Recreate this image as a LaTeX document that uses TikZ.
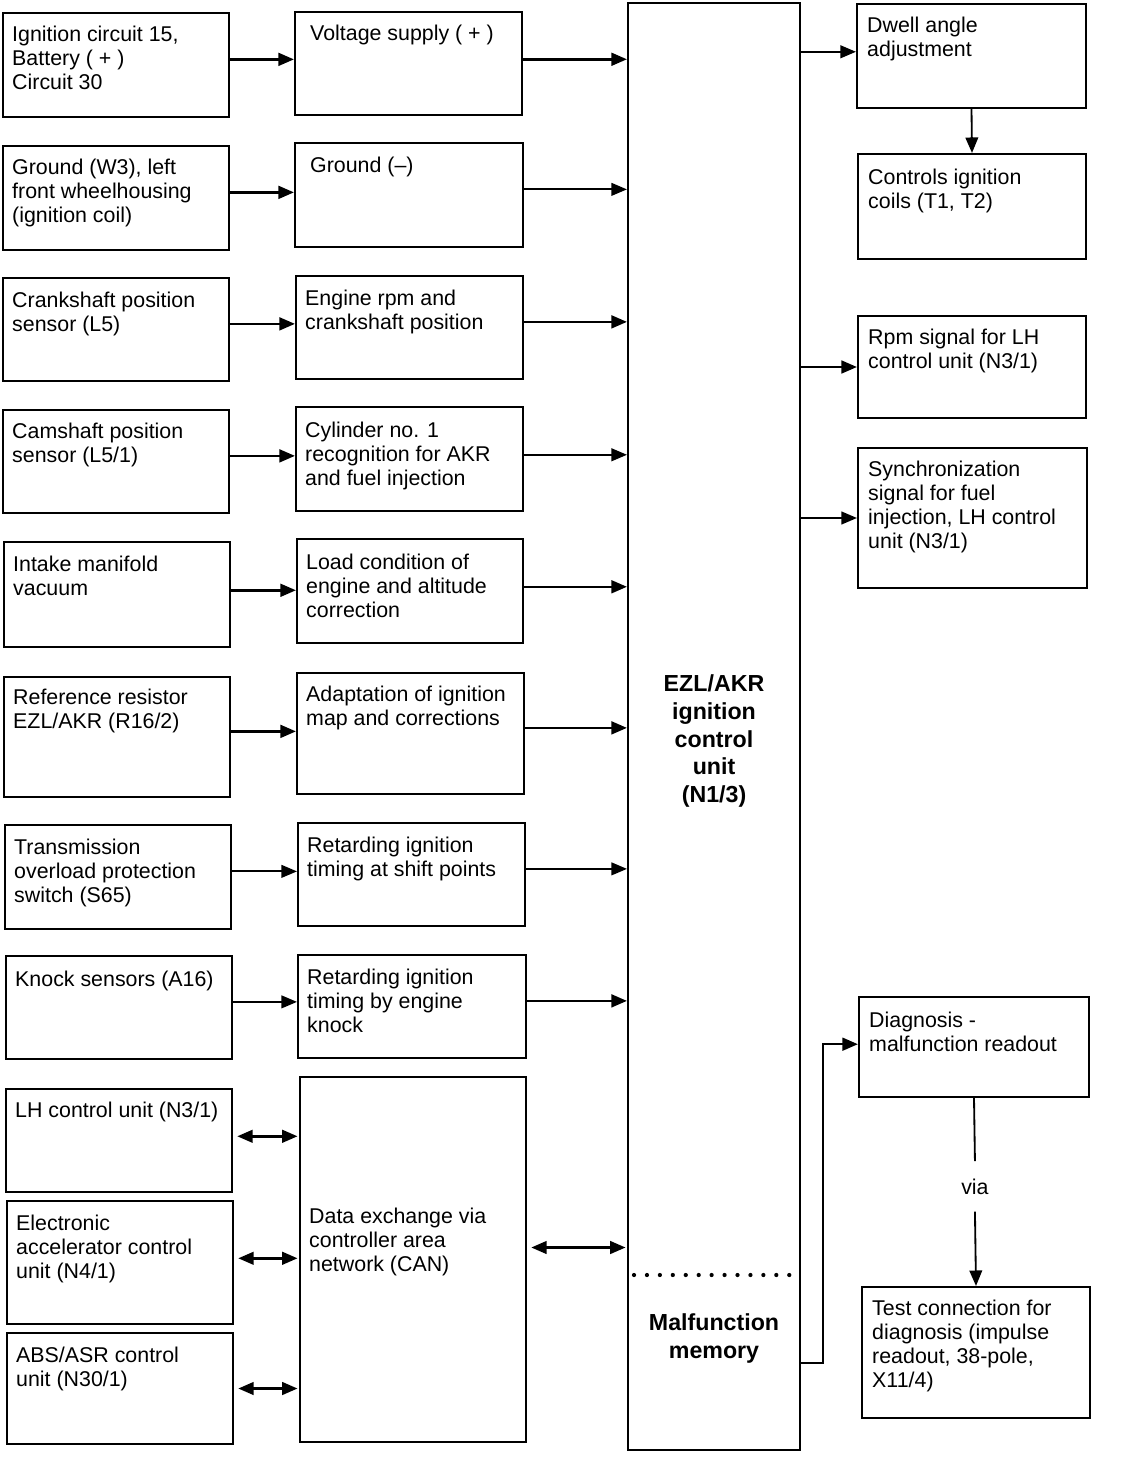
\documentclass[tikz,border=0pt]{standalone}
\usepackage{fontspec}
\setmainfont{Liberation Sans}
\usetikzlibrary{arrows.meta,fit,calc}

\begin{document}
\begin{tikzpicture}[x=0.025cm,y=-0.025cm,
  blk/.style={draw,line width=1.5pt,inner sep=0pt},
  txt/.style={anchor=north west,align=left,inner sep=0pt,font=\fontsize{15.2}{17.1}\selectfont},
  bold/.style={align=center,inner sep=0pt,font=\bfseries\fontsize{16.5}{19.9}\selectfont},
  arr/.style={-{Triangle[length=11pt,width=9pt]},line width=1.8pt},
  arrthin/.style={arr,line width=1.3pt},
  dbl/.style={{Triangle[length=11pt,width=9pt]}-{Triangle[length=11pt,width=9pt]},line width=1.8pt,shorten <=3pt,shorten >=1pt}]
\path[use as bounding box] (0,0) rectangle (1120,1458);
\fill[white] (0,0) rectangle (1120,1458);

% inputs
\node[blk,fit={(3,13) (229,117)}] (ign) {};
\node[txt] (igntxt) at ([shift={(10,14)}]ign.north west) {Ignition circuit 15,\\Battery ( + )\\Circuit 30};
\node[blk,fit={(3,146) (229,250)}] (gnd) {};
\node[txt] (gndtxt) at ([shift={(10,14)}]gnd.north west) {Ground (W3), left\\front wheelhousing\\(ignition coil)};
\node[blk,fit={(3,278) (229,381)}] (crank) {};
\node[txt] (cranktxt) at ([shift={(10,15)}]crank.north west) {Crankshaft position\\sensor (L5)};
\node[blk,fit={(3,410) (229,513)}] (cam) {};
\node[txt] (camtxt) at ([shift={(10,14)}]cam.north west) {Camshaft position\\sensor (L5/1)};
\node[blk,fit={(4,542) (230,647)}] (vac) {};
\node[txt] (vactxt) at ([shift={(10,15)}]vac.north west) {Intake manifold\\vacuum};
\node[blk,fit={(4,677) (230,797)}] (res) {};
\node[txt] (restxt) at ([shift={(10,13)}]res.north west) {Reference resistor\\EZL/AKR (R16/2)};
\node[blk,fit={(5,825) (231,929)}] (trans) {};
\node[txt] (transtxt) at ([shift={(10,15)}]trans.north west) {Transmission\\overload protection\\switch (S65)};
\node[blk,fit={(6,956) (232,1059)}] (knock) {};
\node[txt] (knocktxt) at ([shift={(10,16)}]knock.north west) {Knock sensors (A16)};
\node[blk,fit={(6,1089) (232,1192)}] (lh) {};
\node[txt] (lhtxt) at ([shift={(10,14)}]lh.north west) {LH control unit (N3/1)};
\node[blk,fit={(7,1201) (233,1324)}] (eac) {};
\node[txt] (eactxt) at ([shift={(10,15)}]eac.north west) {Electronic\\accelerator control\\unit (N4/1)};
\node[blk,fit={(7,1333) (233,1444)}] (abs) {};
\node[txt] (abstxt) at ([shift={(10,15)}]abs.north west) {ABS/ASR control\\unit (N30/1)};

% functions
\node[blk,fit={(295,12) (522,115)}] (vsup) {};
\node[txt] (vsuptxt) at ([shift={(16,14)}]vsup.north west) {Voltage supply ( + )};
\node[blk,fit={(295,143) (523,247)}] (gndm) {};
\node[txt] (gndmtxt) at ([shift={(16,15)}]gndm.north west) {Ground (\textendash)};
\node[blk,fit={(296,276) (523,379)}] (rpm) {};
\node[txt] (rpmtxt) at ([shift={(10,15)}]rpm.north west) {Engine rpm and\\crankshaft position};
\node[blk,fit={(296,407) (523,511)}] (cyl) {};
\node[txt] (cyltxt) at ([shift={(10,16)}]cyl.north west) {Cylinder no. 1\\recognition for AKR\\and fuel injection};
\node[blk,fit={(297,539) (523,643)}] (load) {};
\node[txt] (loadtxt) at ([shift={(10,16)}]load.north west) {Load condition of\\engine and altitude\\correction};
\node[blk,fit={(297,673) (524,794)}] (adapt) {};
\node[txt] (adapttxt) at ([shift={(10,14)}]adapt.north west) {Adaptation of ignition\\map and corrections};
\node[blk,fit={(298,823) (525,926)}] (shift) {};
\node[txt] (shifttxt) at ([shift={(10,15)}]shift.north west) {Retarding ignition\\timing at shift points};
\node[blk,fit={(298,955) (526,1058)}] (retk) {};
\node[txt] (retktxt) at ([shift={(10,15)}]retk.north west) {Retarding ignition\\timing by engine\\knock};
\node[blk,fit={(300,1077) (526,1442)}] (can) {};
\node[txt] (cantxt) at ([shift={(10,132)}]can.north west) {Data exchange via\\controller area\\network (CAN)};

% control unit
\node[blk,fit={(628,3) (800,1450)}] (ecu) {};
\node[bold] (ecutxt) at (714,741) {EZL/AKR\\ignition\\control\\unit\\(N1/3)};
\draw[line width=3pt,dash pattern=on 0pt off 9.2pt,line cap=round] (634,1275) -- (798,1275);
\node[bold] (memtxt) at (714,1338) {Malfunction\\memory};

% outputs
\node[blk,fit={(857,4) (1086,108)}] (dwell) {};
\node[txt] (dwelltxt) at ([shift={(11,14)}]dwell.north west) {Dwell angle\\adjustment};
\node[blk,fit={(858,154) (1086,259)}] (coils) {};
\node[txt] (coilstxt) at ([shift={(11,16)}]coils.north west) {Controls ignition\\coils (T1, T2)};
\node[blk,fit={(858,316) (1086,418)}] (rpmout) {};
\node[txt] (rpmouttxt) at ([shift={(11,14)}]rpmout.north west) {Rpm signal for LH\\control unit (N3/1)};
\node[blk,fit={(858,448) (1087,588)}] (sync) {};
\node[txt] (synctxt) at ([shift={(11,14)}]sync.north west) {Synchronization\\signal for fuel\\injection, LH control\\unit (N3/1)};
\node[blk,fit={(859,997) (1089,1097)}] (diag) {};
\node[txt] (diagtxt) at ([shift={(11,16)}]diag.north west) {Diagnosis -\\malfunction readout};
\node[blk,fit={(862,1287) (1090,1418)}] (test) {};
\node[txt] (testtxt) at ([shift={(11,14)}]test.north west) {Test connection for\\diagnosis (impulse\\readout, 38-pole,\\X11/4)};
\node[inner xsep=2pt,inner ysep=0.43cm,font=\fontsize{15.2}{17.1}\selectfont] (via) at ($(diag.south)!0.47!(test.north)$) {via};

% connectors
\draw[arr] ([yshift=4pt]ign.east) -- ([yshift=4pt]ign.east -| vsup.west);
\draw[arr] ([yshift=4pt]gnd.east) -- ([yshift=4pt]gnd.east -| gndm.west);
\draw[arr] ([yshift=4pt]crank.east) -- ([yshift=4pt]crank.east -| rpm.west);
\draw[arr] ([yshift=4pt]cam.east) -- ([yshift=4pt]cam.east -| cyl.west);
\draw[arr] ([yshift=3pt]vac.east) -- ([yshift=3pt]vac.east -| load.west);
\draw[arr] ([yshift=4pt]res.east) -- ([yshift=4pt]res.east -| adapt.west);
\draw[arrthin] ([yshift=4pt]trans.east) -- ([yshift=4pt]trans.east -| shift.west);
\draw[arrthin] ([yshift=4pt]knock.east) -- ([yshift=4pt]knock.east -| retk.west);
\draw[dbl] ([yshift=3pt]lh.east) -- ([yshift=3pt]lh.east -| can.west);
\draw[dbl] ([yshift=3pt]eac.east) -- ([yshift=3pt]eac.east -| can.west);
\draw[dbl] (abs.east) -- (abs.east -| can.west);

\draw[arr] ([yshift=3pt]vsup.east) -- ([yshift=3pt]vsup.east -| ecu.west);
\draw[arrthin] ([yshift=4pt]gndm.east) -- ([yshift=4pt]gndm.east -| ecu.west);
\draw[arr] ([yshift=4pt]rpm.east) -- ([yshift=4pt]rpm.east -| ecu.west);
\draw[arrthin] ([yshift=3pt]cyl.east) -- ([yshift=3pt]cyl.east -| ecu.west);
\draw[arr] ([yshift=3pt]load.east) -- ([yshift=3pt]load.east -| ecu.west);
\draw[arr] ([yshift=4pt]adapt.east) -- ([yshift=4pt]adapt.east -| ecu.west);
\draw[arrthin] ([yshift=4pt]shift.east) -- ([yshift=4pt]shift.east -| ecu.west);
\draw[arr] ([yshift=4pt]retk.east) -- ([yshift=4pt]retk.east -| ecu.west);
\draw[dbl] ([yshift=0.3cm]can.east) -- ([yshift=0.3cm]can.east -| ecu.west);

\draw[arrthin] ([yshift=3pt]dwell.west -| ecu.east) -- ([yshift=3pt]dwell.west);
\draw[arrthin] (dwell.south) -- (coils.north);
\draw[arr] (rpmout.west -| ecu.east) -- (rpmout.west);
\draw[arrthin] (sync.west -| ecu.east) -- (sync.west);
\draw[arr] (memtxt.south -| ecu.east) -- ++(22,0) |- ([yshift=2pt]diag.west);
\draw[line width=1.3pt] (diag.south) -- (via.north);
\draw[arrthin] (via.south) -- (test.north);
\end{tikzpicture}
\end{document}
